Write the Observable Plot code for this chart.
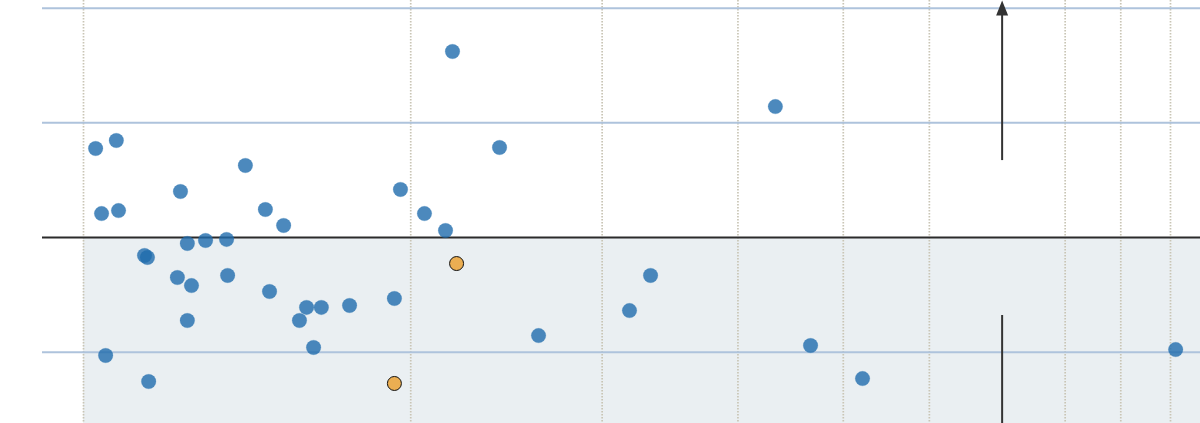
<!DOCTYPE html>
<html>
<head>
<meta charset="utf-8">
<script src="https://cdn.jsdelivr.net/npm/d3@7"></script>
<script src="https://cdn.jsdelivr.net/npm/@observablehq/plot@0.6"></script>
<style>
  html, body { margin: 0; padding: 0; background: #fff; }
  svg { display: block; }
</style>
</head>
<body>
<div id="chart"></div>
<script>
// Data: x on a log scale, y linear
const xValues = [1.026, 1.072, 1.039, 1.077, 1.138, 1.145, 1.048, 1.148, 1.228, 1.246,
                 1.295, 1.354, 1.220, 1.257, 1.357, 1.246, 1.409, 1.470, 1.528, 1.483,
                 1.604, 1.655, 1.580, 1.628, 1.757, 1.932, 1.957, 2.059, 2.153, 2.185,
                 2.414, 2.622, 3.179, 3.324, 4.330, 4.665, 5.208, 10.11];
const yValues = [0.776, 0.846, 0.209, 0.235, -0.157, -0.174, -1.029, -1.256, 0.401, -0.052,
                 -0.026, -0.017, -0.349, -0.419, -0.331, -0.724, 0.628, 0.244, 0.105, -0.471,
                 -0.610, -0.610, -0.724, -0.959, -0.593, -0.532, 0.419, 0.209, 0.061, 1.622,
                 0.785, -0.855, -0.637, -0.331, 1.142, -0.942, -1.230, -0.977];
const highlightX = [2.204, 1.932];
const highlightY = [-0.227, -1.273];

// Axis / grid values
const xDomain = [0.9168, 10.656];
const yDomain = [-1.622, 2.067];
const xGrid = [1, 2, 3, 4, 5, 6, 8, 9, 10];
const yGrid = [-1, 1, 2];
const baseline = [0];

// Off-chart annotation at x = 7
const annotX = [7];
const annotUpFrom = [0.671];
const annotDownFrom = [-0.680];

const points = xValues.map((x, i) => ({x, y: yValues[i]}));
const highlights = highlightX.map((x, i) => ({x, y: highlightY[i]}));

// arrowhead symbol, tip at the anchor point
const arrowHead = {
  draw(context) {
    context.moveTo(0, 0);
    context.lineTo(-6, 15);
    context.lineTo(6, 15);
    context.closePath();
  }
};

const chart = Plot.plot({
  width: 1200,
  height: 423,
  marginLeft: 42,
  marginRight: 0,
  marginTop: 0,
  marginBottom: 0,
  x: {type: "log", domain: xDomain, axis: null},
  y: {domain: yDomain, axis: null},
  marks: [
    Plot.rect([0], {x1: () => xGrid[0], x2: () => xDomain[1], y1: () => yDomain[0], y2: () => baseline[0], fill: "#eaeff2"}),
    Plot.ruleX(xGrid, {stroke: "#c9c5b5", strokeWidth: 1.7, strokeDasharray: "1.5,1.5"}),
    Plot.ruleY(yGrid, {stroke: "#aec3dc", strokeWidth: 2}),
    Plot.ruleY(baseline, {stroke: "#2b2b2b", strokeWidth: 2}),
    Plot.ruleX(annotX, {y1: annotUpFrom, y2: () => yDomain[1] - 0.1, stroke: "#333", strokeWidth: 2}),
    Plot.dot(annotX, {x: d => d, y: () => yDomain[1], symbol: arrowHead, fill: "#333", stroke: "none"}),
    Plot.ruleX(annotX, {y1: annotDownFrom, y2: () => yDomain[0], stroke: "#333", strokeWidth: 2}),
    Plot.dot(points, {x: "x", y: "y", r: 7.3, fill: "#1f6cad", fillOpacity: 0.8, stroke: "#1f6cad", strokeOpacity: 0.25, strokeWidth: 0.8}),
    Plot.dot(highlights, {x: "x", y: "y", r: 7, fill: "#ebae52", stroke: "#111", strokeWidth: 1})
  ]
});
document.getElementById("chart").appendChild(chart);
</script>
</body>
</html>
